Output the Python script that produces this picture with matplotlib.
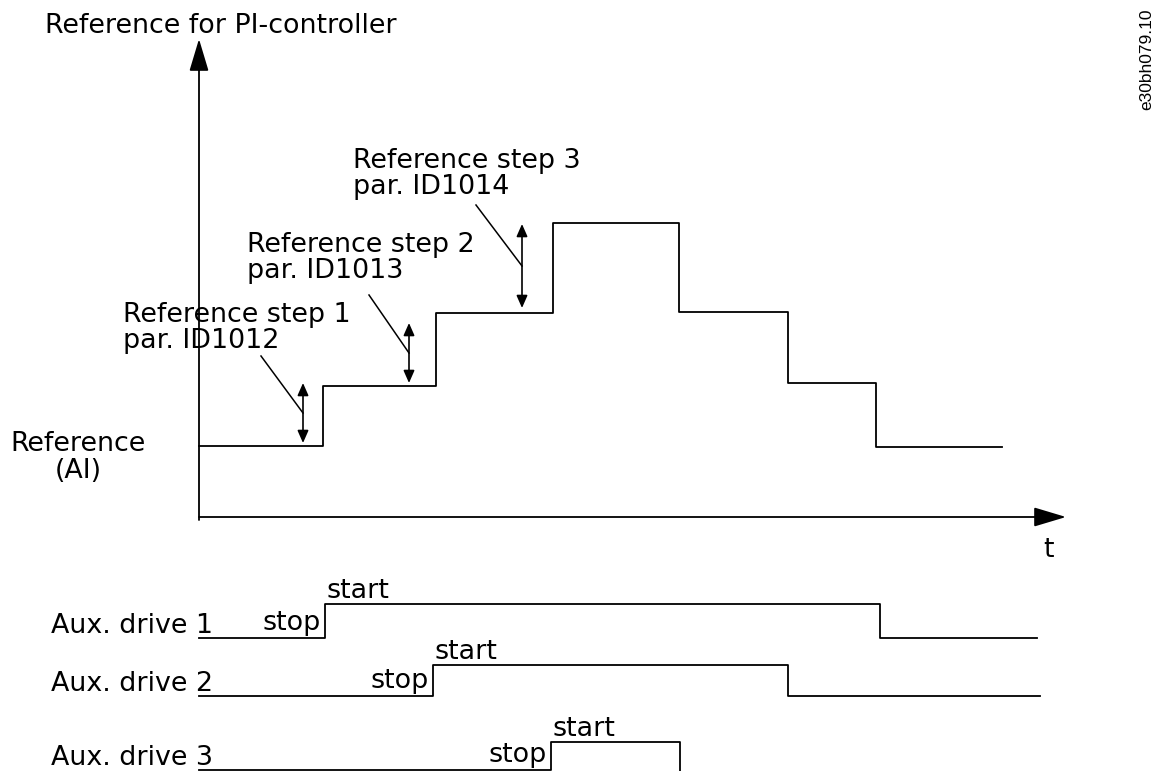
import numpy as np
import matplotlib.pyplot as plt

# reference for PI-controller (step times and levels, picture units, y grows downwards)
ref_times = [199, 323, 436, 553, 679, 788, 876, 1002]
ref_levels = [446, 386, 313, 223, 312, 383, 447, 447]

# reference step annotations: arrow x, arrow top, arrow bottom
step_labels = ['Reference step 1\npar. ID1012',
               'Reference step 2\npar. ID1013',
               'Reference step 3\npar. ID1014']
step_arrow_x = [303, 409, 522]
step_arrow_top = [383, 323, 224]
step_arrow_bot = [443, 383, 308]

# aux drives: switch on / off times, low / high levels, end of line
aux_names = ['Aux. drive 1', 'Aux. drive 2', 'Aux. drive 3']
aux_on = [325, 433, 551]
aux_off = [880, 788, 680]
aux_low = [638, 696, 770]
aux_high = [604, 665, 742]
aux_end = [1037, 1040, 680]

x0 = 199      # time axis origin
t_axis_y = 517

fig = plt.figure(figsize=(11.59, 7.71), dpi=100)
ax = fig.add_axes([0, 0, 1, 1])
ax.set_xlim(0, 1159)
ax.set_ylim(771, 0)
ax.axis('off')

lw = 1.3
fs = 19.4

# axes with arrow heads
big_head = '-|>,head_length=1.0,head_width=0.3'
ax.annotate('', xy=(x0, 39), xytext=(x0, t_axis_y + 3),
            arrowprops=dict(arrowstyle=big_head, mutation_scale=20, lw=lw,
                            color='black', shrinkA=0, shrinkB=0))
ax.annotate('', xy=(1066, t_axis_y), xytext=(x0, t_axis_y),
            arrowprops=dict(arrowstyle=big_head, mutation_scale=20, lw=lw,
                            color='black', shrinkA=0, shrinkB=0))
ax.text(45, 33, 'Reference for PI-controller', fontsize=fs, va='baseline', ha='left')
ax.text(1049, 557, 't', fontsize=fs, va='baseline', ha='center')

# reference curve
ax.step(ref_times, ref_levels, where='post', color='black', lw=lw)
ax.text(78, 451, 'Reference', fontsize=fs, va='baseline', ha='center')
ax.text(78, 478, '(AI)', fontsize=fs, va='baseline', ha='center')

# step annotations
label_pos = [(123, 322), (247, 252), (353, 168)]
leader_start = [(261, 356), (369, 295), (476, 205)]
for i in range(3):
    ax.annotate('', xy=(step_arrow_x[i], step_arrow_top[i]),
                xytext=(step_arrow_x[i], step_arrow_bot[i]),
                arrowprops=dict(arrowstyle='<|-|>,head_length=0.75,head_width=0.33',
                                mutation_scale=10, lw=1.2, color='black',
                                shrinkA=0, shrinkB=0))
    mid = (step_arrow_top[i] + step_arrow_bot[i]) / 2
    ax.plot([leader_start[i][0], step_arrow_x[i]], [leader_start[i][1], mid],
            color='black', lw=1.1)
    line1, line2 = step_labels[i].split('\n')
    ax.text(label_pos[i][0], label_pos[i][1], line1, fontsize=fs, va='baseline')
    ax.text(label_pos[i][0], label_pos[i][1] + 26, line2, fontsize=fs, va='baseline')

# aux drives
for i in range(3):
    xs = [x0, aux_on[i], aux_on[i], aux_off[i], aux_off[i]]
    ys = [aux_low[i], aux_low[i], aux_high[i], aux_high[i], aux_low[i]]
    if aux_end[i] > aux_off[i]:
        xs.append(aux_end[i])
        ys.append(aux_low[i])
    else:
        ys[-1] = 790
    ax.plot(xs, ys, color='black', lw=lw)
    ax.text(213, aux_low[i] - 5, aux_names[i], fontsize=fs, va='baseline', ha='right')
    ax.text(aux_on[i] - 4, aux_low[i] - 8, 'stop', fontsize=fs, va='baseline', ha='right')
    ax.text(aux_on[i] + 2, aux_high[i] - 6, 'start', fontsize=fs, va='baseline', ha='left')

ax.text(1147, 8, 'e30bh079.10', fontsize=12.5, rotation=90, ha='center', va='top',
        family='Liberation Sans')

fig.savefig('out.png', dpi=100)
